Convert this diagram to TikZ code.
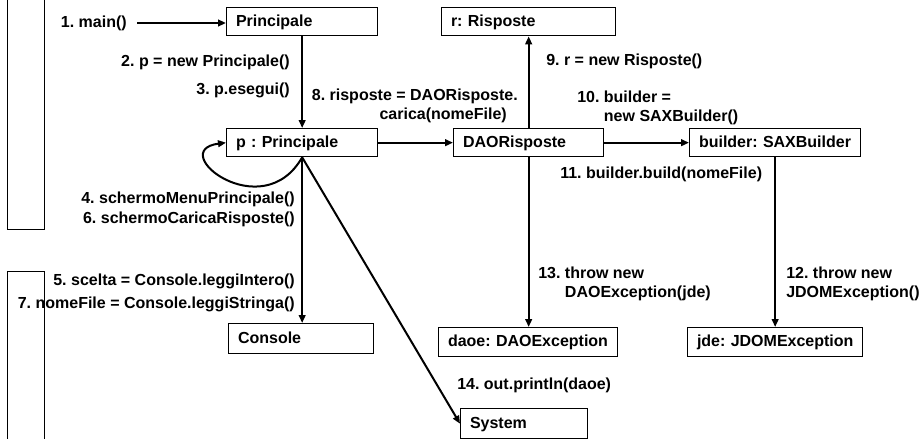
\documentclass[tikz,border=0pt]{standalone}
\usepackage{fontspec}
\setmainfont{Liberation Sans}
\usetikzlibrary{arrows.meta}
\frenchspacing
\hyphenpenalty=10000
\exhyphenpenalty=10000

\begin{document}
\begin{tikzpicture}[x=0.75pt,y=-0.75pt]
\tikzset{>={Triangle[length=6pt,width=5pt]}}
\tikzstyle{obj} =[draw, line width=1pt, anchor=north west, inner xsep=7pt, inner ysep=0pt, minimum height=21pt, align=left, text height=0.72em, text depth=0pt, font=\bfseries\fontsize{12}{14}\selectfont\frenchspacing]
\tikzstyle{msg} =[inner sep=0pt, align=left, font=\bfseries\fontsize{12}{14.25}\selectfont\frenchspacing]
\tikzstyle{call} =[->, line width=1.5pt]
\useasboundingbox (0,0) rectangle (922,439);
% side bars
\draw[line width=0.75pt] (7,0) -- (7,229) -- (44,229) -- (44,0);
\draw[line width=0.75pt] (7,439) -- (7,271) -- (44,271) -- (44,439);
% objects
\node[obj, text width=99.25pt] (prin) at (226,7) {Principale};
\node[obj, text width=116.5pt] (risp) at (441,7) {r:~Risposte};
\node[obj, text width=99.25pt] (pp) at (226,128) {p~:~Principale};
\node[obj, text width=98.5pt] (dao) at (453,128) {DAORisposte};
\node[obj, text width=114.25pt] (sax) at (689,128) {builder:~SAXBuilder};
\node[obj, text width=94.75pt, minimum height=22.5pt] (cons) at (228,323) {Console};
\node[obj, text width=120.25pt, minimum height=21.75pt] (daoe) at (438,327) {daoe:~DAOException};
\node[obj, text width=117.25pt, minimum height=21.75pt] (jde) at (687,327) {jde:~JDOMException};
\node[obj, text width=81.25pt, minimum height=22.5pt] (sys) at (460,408) {System};
% messages
\node[msg, anchor=east, inner xsep=7.5pt, text height=0.72em, text depth=0pt] (l1) at (137,23) {1. main()};
\node[msg, anchor=base east] (l2) at (290,66) {2. p = new Principale()};
\node[msg, anchor=base east] (l3) at (290,94) {3. p.esegui()};
\node[msg, anchor=base east] (l4) at (295,203) {4. schermoMenuPrincipale()};
\node[msg, anchor=base east] (l6) at (295,223) {6. schermoCaricaRisposte()};
\node[msg, anchor=base east] (l5) at (295,285) {5. scelta = Console.leggiIntero()};
\node[msg, anchor=base east] (l7) at (295,308) {7. nomeFile = Console.leggiStringa()};
\node[msg, align=right, anchor=base east] (l8) at (518,119) {8. risposte = DAORisposte.\\carica(nomeFile)\hspace*{8.25pt}};
\node[msg, anchor=base west] (l9) at (546,65) {9. r = new Risposte()};
\node[msg, anchor=base west] (l10) at (577,121) {10. builder =\\\phantom{10. }new SAXBuilder()};
\node[msg, anchor=base west] (l11) at (560,178) {11. builder.build(nomeFile)};
\node[msg, anchor=base west] (l12) at (786,297) {12. throw new\\JDOMException()};
\node[msg, anchor=base west] (l13) at (538,297) {13. throw new\\\phantom{13. }DAOException(jde)};
\node[msg, anchor=base west] (l14) at (457,389) {14. out.println(daoe)};
% calls
\draw[call] (l1.east) -- (l1.east -| prin.west);
\draw[call] (prin) -- (pp);
\draw[call] (pp.south) .. controls +(-40,70) and +(-61,8) .. (pp.west);
\draw[call] (pp.south) -- (pp.south |- cons.north);
\draw[call] (pp.south) -- (sys.west);
\draw[call] (pp) -- (dao);
\draw[call] (dao) -- (risp);
\draw[call] (dao) -- (sax);
\draw[call] (dao.south) -- (dao.south |- daoe.north);
\draw[call] (sax) -- (jde);
\end{tikzpicture}
\end{document}
